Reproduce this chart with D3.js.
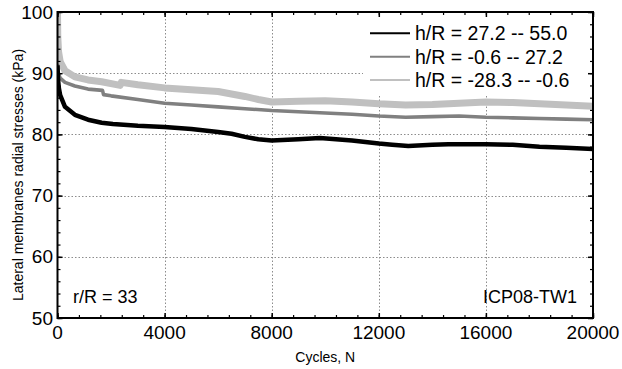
<!DOCTYPE html>
<html><head><meta charset="utf-8">
<script src="https://cdn.jsdelivr.net/npm/d3@7/dist/d3.min.js"></script>
<style>body{margin:0;background:#fff}svg{display:block;font-family:"Liberation Sans",Arial,sans-serif}</style>
</head><body><svg id="c" width="622" height="369"></svg>
<script>
const seriesNames = ["h/R = 27.2 -- 55.0", "h/R = -0.6 -- 27.2", "h/R = -28.3 -- -0.6"];
const seriesColors = ["#000000", "#808080", "#c0c0c0"];
const blackN = [0, 20, 50, 100, 280, 650, 1140, 1650, 2070, 3000, 4000, 5000, 6000, 6500, 7000, 7500, 8000, 9000, 9800, 11000, 12000, 12500, 13100, 14000, 14600, 16000, 17000, 18000, 19000, 20000];
const blackV = [91.3, 89.0, 87.6, 86.4, 84.5, 83.2, 82.4, 81.9, 81.7, 81.4, 81.2, 80.9, 80.4, 80.1, 79.6, 79.2, 79.0, 79.2, 79.4, 79.0, 78.5, 78.3, 78.1, 78.3, 78.4, 78.4, 78.3, 78.0, 77.8, 77.6];
const midN = [0, 30, 100, 280, 650, 1140, 1680, 1720, 2000, 3000, 4000, 5000, 6000, 7000, 8000, 9000, 10000, 11000, 12000, 13000, 14000, 15000, 16000, 17000, 18000, 19000, 20000];
const midV = [91.5, 90.0, 89.2, 88.5, 87.9, 87.4, 87.2, 86.5, 86.3, 85.7, 85.1, 84.8, 84.5, 84.2, 83.9, 83.7, 83.5, 83.3, 83.0, 82.8, 82.9, 83.0, 82.8, 82.7, 82.6, 82.5, 82.4];
const lightN = [0, 10, 40, 100, 280, 650, 1140, 1650, 2340, 2380, 3000, 4000, 5000, 6000, 7000, 7500, 8000, 9000, 10000, 11000, 12000, 13000, 14000, 15000, 16000, 17000, 18000, 19000, 20000];
const lightV = [100, 96.0, 93.5, 91.9, 90.4, 89.4, 88.9, 88.6, 88.0, 88.5, 88.1, 87.6, 87.3, 87.0, 86.2, 85.7, 85.3, 85.4, 85.5, 85.3, 85.0, 84.8, 84.9, 85.1, 85.3, 85.2, 85.0, 84.8, 84.6];
const xTicks = [0, 4000, 8000, 12000, 16000, 20000];
const yTicks = [50, 60, 70, 80, 90, 100];
const xTitle = "Cycles, N";
const yTitle = "Lateral membranes radial stresses (kPa)";
const noteLeft = "r/R = 33";
const noteRight = "ICP08-TW1";

const L = 57.5, R = 593, T = 12, B = 318;
const svg = d3.select("#c");
const x = d3.scaleLinear().domain([0, 20000]).range([L, R]);
const y = d3.scaleLinear().domain([50, 100]).range([B, T]);

// grid
const grid = svg.append("g").attr("stroke", "#8c8c8c").attr("stroke-width", 1).attr("stroke-dasharray", "1.5,2");
grid.selectAll(".gx").data(xTicks.slice(1, -1)).join("line")
  .attr("x1", d => Math.round(x(d)) + 0.5).attr("x2", d => Math.round(x(d)) + 0.5).attr("y1", T).attr("y2", B);
grid.selectAll(".gy").data(yTicks.slice(1, -1)).join("line")
  .attr("y1", d => Math.round(y(d)) + 0.5).attr("y2", d => Math.round(y(d)) + 0.5).attr("x1", L).attr("x2", R);

// data
const clip = svg.append("clipPath").attr("id", "pc").append("rect").attr("x", L).attr("y", T).attr("width", R - L).attr("height", B - T);
const line = d3.line().x(d => x(d[0])).y(d => y(d[1]));
const series = [
  {n: lightN, v: lightV, c: seriesColors[2], w: 7},
  {n: midN, v: midV, c: seriesColors[1], w: 3.6},
  {n: blackN, v: blackV, c: seriesColors[0], w: 4.5}
];
const dg = svg.append("g").attr("clip-path", "url(#pc)");
series.forEach(s => {
  dg.append("path").datum(s.n.map((n, i) => [n, s.v[i]])).attr("d", line)
    .attr("fill", "none").attr("stroke", s.c).attr("stroke-width", s.w).attr("stroke-linejoin", "round");
});

// legend box
svg.append("rect").attr("x", 363).attr("y", T).attr("width", R - 363).attr("height", 84).attr("fill", "#fff");

// axes with inward ticks
function axisTicks(g, major, minor, orient) {
  const minorVals = d3.range(minor[0], minor[1] + 1e-9, minor[2]);
  const scale = (orient === "bottom" || orient === "top") ? x : y;
  let ax;
  if (orient === "bottom") ax = d3.axisTop(scale);
  else if (orient === "top") ax = d3.axisBottom(scale);
  else if (orient === "left") ax = d3.axisRight(scale);
  else ax = d3.axisLeft(scale);
  g.append("g").call(ax.tickValues(minorVals).tickSize(3).tickFormat(""))
    .call(a => a.select(".domain").remove()).selectAll("line").attr("stroke", "#000").attr("stroke-width", 1.2);
  g.append("g").call((orient === "bottom" ? d3.axisTop(scale) : orient === "top" ? d3.axisBottom(scale) : orient === "left" ? d3.axisRight(scale) : d3.axisLeft(scale))
    .tickValues(major).tickSize(5).tickFormat(""))
    .call(a => a.select(".domain").remove()).selectAll("line").attr("stroke", "#000").attr("stroke-width", 1.5);
}
axisTicks(svg.append("g").attr("transform", `translate(0,${B})`), xTicks, [0, 20000, 800], "bottom");
axisTicks(svg.append("g").attr("transform", `translate(0,${T})`), xTicks, [0, 20000, 800], "top");
axisTicks(svg.append("g").attr("transform", `translate(${L},0)`), yTicks, [50, 100, 2], "left");
axisTicks(svg.append("g").attr("transform", `translate(${R},0)`), yTicks, [50, 100, 2], "right");

svg.append("rect").attr("x", L).attr("y", T).attr("width", R - L).attr("height", B - T)
  .attr("fill", "none").attr("stroke", "#000").attr("stroke-width", 2);

// tick labels
const xl = d3.axisBottom(x).tickValues(xTicks).tickSize(0).tickPadding(0);
svg.append("g").selectAll("text").data(xTicks).join("text")
  .attr("x", d => x(d)).attr("y", 338.5).attr("text-anchor", "middle").attr("font-size", 19).text(d => d);
svg.append("g").selectAll("text").data(yTicks).join("text")
  .attr("x", 53).attr("y", d => y(d) + 6.5).attr("text-anchor", "end").attr("font-size", 19).text(d => d);

// titles
svg.append("text").attr("x", (L + R) / 2).attr("y", 361.5).attr("text-anchor", "middle").attr("font-size", 14).text(xTitle);
svg.append("text").attr("transform", "translate(23,175) rotate(-90)").attr("text-anchor", "middle").attr("font-size", 14).text(yTitle);

// notes
svg.append("text").attr("x", 73).attr("y", 302.5).attr("font-size", 18).text(noteLeft);
svg.append("text").attr("x", 577).attr("y", 303).attr("text-anchor", "end").attr("font-size", 18).text(noteRight);

// legend
const lg = svg.append("g");
seriesNames.forEach((nm, i) => {
  const yy = 33.3 + i * 23.4;
  lg.append("line").attr("x1", 370).attr("x2", 410).attr("y1", yy).attr("y2", yy).attr("stroke", seriesColors[i]).attr("stroke-width", 2);
  lg.append("text").attr("x", 415).attr("y", yy + 7).attr("font-size", 19.5).text(nm);
});
</script></body></html>
